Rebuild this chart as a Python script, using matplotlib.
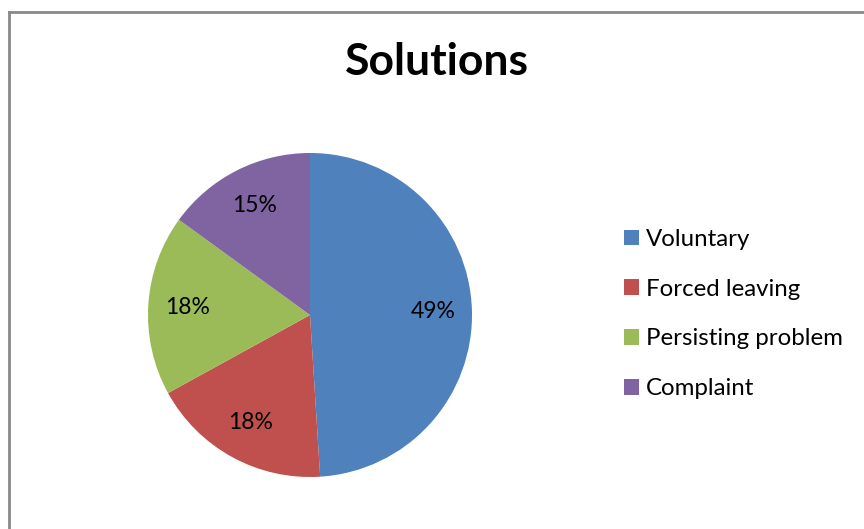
import matplotlib
matplotlib.use("Agg")
import matplotlib.pyplot as plt
from matplotlib.lines import Line2D

categories = ["Voluntary", "Forced leaving", "Persisting problem", "Complaint"]
values = [49, 18, 18, 15]
colors = ["#4F81BD", "#C0504D", "#9BBB59", "#8064A2"]
title = "Solutions"

plt.rcParams['font.family'] = ['Lato', 'DejaVu Sans']

W, H = 864, 529
fig = plt.figure(figsize=(W / 100, H / 100), dpi=100)
fig.patch.set_facecolor("white")

# chart border (top and left visible)
fig.add_artist(Line2D([9 / W, 9 / W], [0, 1 - 12 / H], color="#898989", lw=2,
                      transform=fig.transFigure))
fig.add_artist(Line2D([9 / W, 1], [1 - 12 / H, 1 - 12 / H], color="#898989", lw=2,
                      transform=fig.transFigure))

cx, cy, r = 310, 315, 162
ax = fig.add_axes([(cx - r) / W, (H - cy - r) / H, 2 * r / W, 2 * r / H])
wedges, texts, autotexts = ax.pie(
    values, colors=colors, startangle=90, counterclock=False,
    autopct=lambda p: f"{p:.0f}%", pctdistance=0.76, radius=1,
    wedgeprops=dict(linewidth=0),
    textprops=dict(fontsize=16.5, color="black"))
ax.set_xlim(-1, 1)
ax.set_ylim(-1, 1)
ax.set_aspect("equal")
ax.axis("off")

fig.text(437 / W, 1 - 62 / H, title, ha="center", va="center",
         fontsize=32, fontweight="bold")

leg = fig.legend(wedges, categories, loc="center left",
                 bbox_to_anchor=(624 / W, 1 - 314 / H), frameon=False,
                 fontsize=17.3, handlelength=0.62, handleheight=0.62,
                 handletextpad=0.3, labelspacing=1.2, borderpad=0,
                 borderaxespad=0)

fig.savefig("out.png", dpi=100)
